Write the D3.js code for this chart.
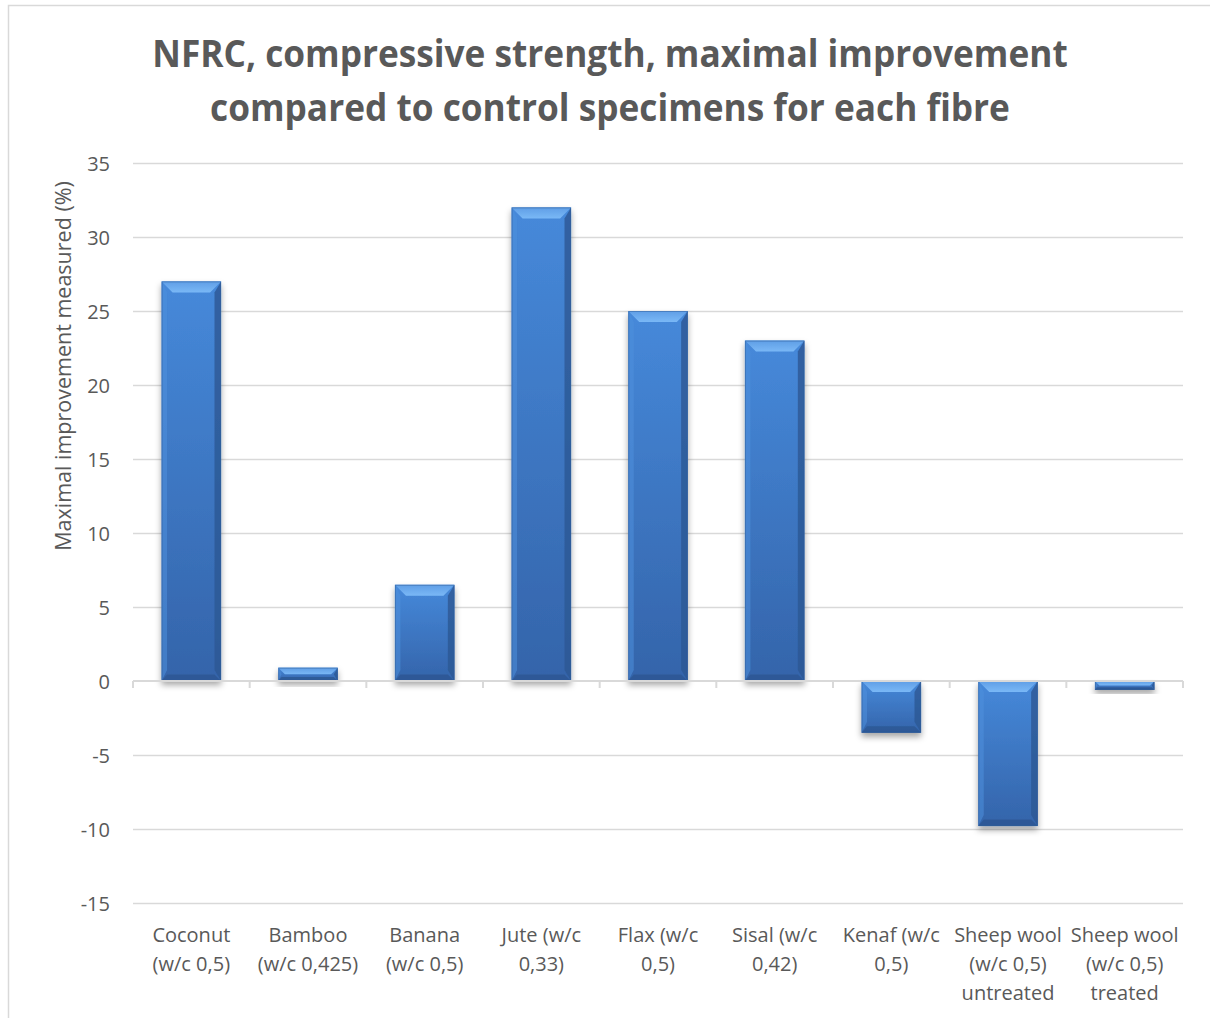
<!DOCTYPE html>
<html>
<head>
<meta charset="utf-8">
<script src="https://cdn.jsdelivr.net/npm/d3@7"></script>
<style>
  html, body { margin: 0; padding: 0; background: #fff; }
  svg { display: block; }
  text { font-family: "Open Sans", Lato, sans-serif; fill: #595959; }
</style>
</head>
<body>
<svg id="chart" width="1210" height="1018"></svg>
<script>
// Chart data
const titleLines = [
  "NFRC, compressive strength, maximal improvement",
  "compared to control specimens for each fibre"
];
const yAxisTitle = "Maximal improvement measured (%)";
const categories = [
  "Coconut\n(w/c 0,5)",
  "Bamboo\n(w/c 0,425)",
  "Banana\n(w/c 0,5)",
  "Jute (w/c\n0,33)",
  "Flax (w/c\n0,5)",
  "Sisal (w/c\n0,42)",
  "Kenaf (w/c\n0,5)",
  "Sheep wool\n(w/c 0,5)\nuntreated",
  "Sheep wool\n(w/c 0,5)\ntreated"
];
const values = [27, 0.9, 6.5, 32, 25, 23, -3.5, -9.8, -0.6];
const yTicks = [-15, -10, -5, 0, 5, 10, 15, 20, 25, 30, 35];

const svg = d3.select("#chart");
const W = 1210, H = 1018;
const plot = { left: 133, right: 1183, top: 163, bottom: 903 };

// Outer chart frame
svg.append("rect")
  .attr("x", 8.5).attr("y", 5.5)
  .attr("width", W + 20).attr("height", H + 20)
  .attr("fill", "none").attr("stroke", "#d9d9d9").attr("stroke-width", 1.5);

const x = d3.scaleBand()
  .domain(categories)
  .range([plot.left, plot.right])
  .paddingInner(0.49).paddingOuter(0.245);

const y = d3.scaleLinear()
  .domain([-15, 35])
  .range([plot.bottom, plot.top]);

// Definitions: gradients and shadow
const defs = svg.append("defs");
const body = defs.append("linearGradient").attr("id", "barBody")
  .attr("x1", 0).attr("y1", 0).attr("x2", 0).attr("y2", 1);
body.append("stop").attr("offset", "0%").attr("stop-color", "#4689da");
body.append("stop").attr("offset", "100%").attr("stop-color", "#3464aa");

const topBevel = defs.append("linearGradient").attr("id", "barTop")
  .attr("x1", 0).attr("y1", 0).attr("x2", 0).attr("y2", 1);
topBevel.append("stop").attr("offset", "0%").attr("stop-color", "#5f9ee6");
topBevel.append("stop").attr("offset", "100%").attr("stop-color", "#7ab8f6");

const shadow = defs.append("filter").attr("id", "shadow")
  .attr("x", "-20%").attr("y", "-20%").attr("width", "140%").attr("height", "160%");
shadow.append("feDropShadow")
  .attr("dx", 0).attr("dy", 4).attr("stdDeviation", 3)
  .attr("flood-color", "#000").attr("flood-opacity", 0.35);

// Gridlines
svg.append("g")
  .selectAll("line")
  .data(yTicks.filter(d => d !== 0))
  .join("line")
  .attr("x1", plot.left).attr("x2", plot.right)
  .attr("y1", d => Math.round(y(d)) + 0.5).attr("y2", d => Math.round(y(d)) + 0.5)
  .attr("stroke", "#d9d9d9").attr("stroke-width", 1.3);

// Y axis tick labels
const yAxis = d3.axisLeft(y).tickValues(yTicks).tickFormat(d => String(d))
  .tickSize(0).tickPadding(0);
const gy = svg.append("g")
  .attr("transform", `translate(${plot.left - 23},0)`)
  .call(yAxis);
gy.select(".domain").remove();
gy.selectAll("text")
  .attr("font-size", 20)
  .attr("fill", "#595959")
  .attr("dy", "0.35em")
  .style("font-family", "'Open Sans', Lato, sans-serif");

// Y axis title
svg.append("text")
  .attr("transform", `translate(71,366) rotate(-90)`)
  .attr("text-anchor", "middle")
  .attr("font-size", 21.5)
  .text(yAxisTitle);

// Bars with bevelled faces
const y0 = y(0);
const bars = svg.append("g").selectAll("g.bar")
  .data(categories.map((c, i) => ({ c, v: values[i] })))
  .join("g").attr("class", "bar")
  .attr("filter", "url(#shadow)");

bars.each(function (d) {
  const g = d3.select(this);
  const x0 = x(d.c), w = x.bandwidth();
  const yt = Math.min(y(d.v), y0), yb = Math.max(y(d.v), y0);
  const h = yb - yt;
  const b = Math.min(11, h / 2);
  const x1 = x0 + w;
  // main body
  g.append("rect").attr("x", x0).attr("y", yt).attr("width", w).attr("height", h)
    .attr("fill", "url(#barBody)");
  // top bevel
  g.append("polygon")
    .attr("points", [[x0, yt], [x1, yt], [x1 - b, yt + b], [x0 + b, yt + b]].join(" "))
    .attr("fill", "url(#barTop)");
  // left bevel
  g.append("polygon")
    .attr("points", [[x0, yt], [x0 + b * 0.5, yt + b], [x0 + b * 0.5, yb - b], [x0, yb]].join(" "))
    .attr("fill", "#4f8fdc").attr("opacity", 0.55);
  // right bevel
  g.append("polygon")
    .attr("points", [[x1, yt], [x1 - b * 0.6, yt + b], [x1 - b * 0.6, yb - b], [x1, yb]].join(" "))
    .attr("fill", "#2c5894").attr("opacity", 0.8);
  // bottom bevel
  g.append("polygon")
    .attr("points", [[x0, yb], [x1, yb], [x1 - b * 0.6, yb - b * 0.6], [x0 + b * 0.5, yb - b * 0.6]].join(" "))
    .attr("fill", "#2b5590").attr("opacity", 0.75);
  // outline
  g.append("rect").attr("x", x0 + 0.5).attr("y", yt + 0.5).attr("width", w - 1).attr("height", Math.max(0, h - 1))
    .attr("fill", "none").attr("stroke", "#2f5d9a").attr("stroke-width", 1).attr("opacity", 0.5);
});

// Category axis line at zero with tick marks at band boundaries
const axisG = svg.append("g");
axisG.append("line")
  .attr("x1", plot.left).attr("x2", plot.right)
  .attr("y1", y0).attr("y2", y0)
  .attr("stroke", "#d9d9d9").attr("stroke-width", 2);
const step = x.step();
axisG.selectAll("line.tick")
  .data(d3.range(categories.length + 1))
  .join("line").attr("class", "tick")
  .attr("x1", i => plot.left + i * step).attr("x2", i => plot.left + i * step)
  .attr("y1", y0).attr("y2", y0 + 7)
  .attr("stroke", "#d9d9d9").attr("stroke-width", 2);

// Category labels (multi-line)
const labels = svg.append("g").selectAll("text")
  .data(categories)
  .join("text")
  .attr("text-anchor", "middle")
  .attr("font-size", 20)
  .attr("x", d => x(d) + x.bandwidth() / 2)
  .attr("y", 942);
labels.each(function (d) {
  const t = d3.select(this);
  d.split("\n").forEach((line, i) => {
    t.append("tspan")
      .attr("x", x(d) + x.bandwidth() / 2)
      .attr("dy", i === 0 ? 0 : 29)
      .text(line);
  });
});

// Title, condensed horizontally to its target width
const title = svg.append("text")
  .attr("text-anchor", "middle")
  .attr("font-size", 38)
  .attr("font-weight", "bold")
  .attr("x", 0);
titleLines.forEach((line, i) => {
  title.append("tspan").attr("x", 0).attr("y", i === 0 ? 67 : 121).text(line);
});
const firstW = title.select("tspan").node().getComputedTextLength();
title.attr("transform", `translate(610,0) scale(${916 / firstW},1)`);
</script>
</body>
</html>
